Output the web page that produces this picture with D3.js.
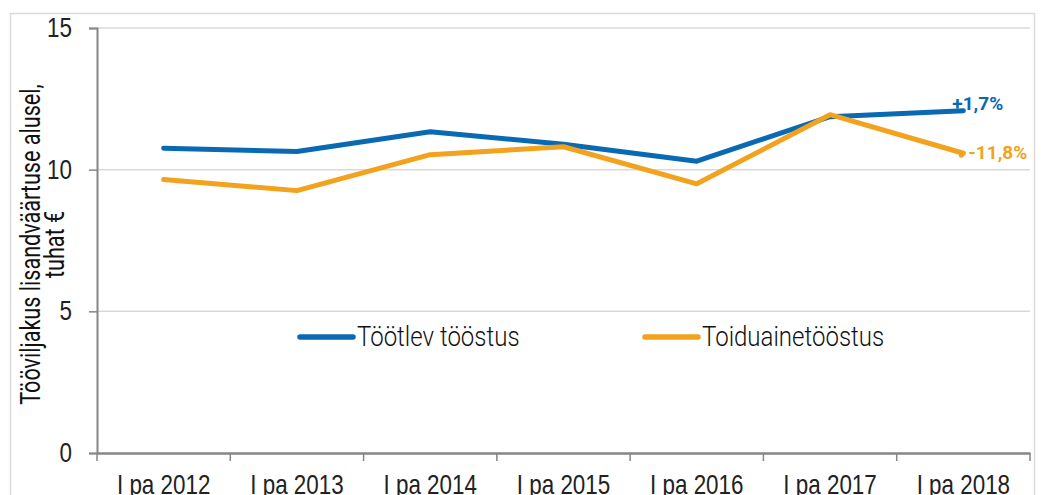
<!DOCTYPE html>
<html lang="et">
<head>
<meta charset="utf-8">
<title>Tööviljakus</title>
<script src="https://d3js.org/d3.v7.min.js"></script>
<style>
  body { margin: 0; background: #fff; }
  svg { display: block; font-family: Roboto, "Noto Sans", sans-serif; }
</style>
</head>
<body>
<svg width="1054" height="495"></svg>
<script>
const w = 1054, h = 495;

// DATA
const categories = ["I pa 2012", "I pa 2013", "I pa 2014", "I pa 2015", "I pa 2016", "I pa 2017", "I pa 2018"];
const tootlev = [10.76, 10.64, 11.34, 10.9, 10.3, 11.87, 12.08];
const toiduaine = [9.65, 9.26, 10.53, 10.81, 9.5, 11.94, 10.58];
const yTicks = [0, 5, 10, 15];
const seriesNames = ["Töötlev tööstus", "Toiduainetööstus"];
const endLabels = ["+1,7%", "-11,8%"];
const colors = ["#0a69b3", "#f2a21d"];

const m = {left: 97, right: 1030, top: 28, bottom: 453};
const k = 0.83;  // horizontal squeeze to mimic a condensed face
const kl = 0.89; // legend squeeze

const svg = d3.select("svg");

// outer frame
svg.append("rect").attr("x", 10.5).attr("y", 13.5).attr("width", 1024).attr("height", 500)
   .attr("fill", "none").attr("stroke", "#d9d9d9").attr("stroke-width", 1.5);

//SCALES
const x = d3.scaleBand().domain(categories).range([m.left, m.right]);
const y = d3.scaleLinear().domain([0, 15]).range([m.bottom, m.top]);

//GRID
svg.append("g").selectAll("line").data(yTicks.filter(d => d > 0)).join("line")
   .attr("x1", m.left).attr("x2", m.right)
   .attr("y1", d => y(d)).attr("y2", d => y(d))
   .attr("stroke", "#d9d9d9").attr("stroke-width", 1.5);

//Y AXIS
const yAxis = svg.append("g").attr("transform", `translate(${m.left},0)`)
   .call(d3.axisLeft(y).tickValues(yTicks).tickSize(8).tickPadding(17));
yAxis.select(".domain").attr("stroke", "#868686").attr("stroke-width", 2);
yAxis.selectAll(".tick line").attr("stroke", "#868686").attr("stroke-width", 1.5);
yAxis.selectAll("text").attr("font-size", 27).attr("font-weight", 300).attr("fill", "#222")
   .attr("font-family", "inherit")
   .attr("x", -25 / k).attr("transform", `scale(${k},1)`);

//X AXIS
const xAxis = svg.append("g").attr("transform", `translate(0,${m.bottom})`)
   .call(d3.axisBottom(x).tickSize(0).tickPadding(22));
xAxis.select(".domain").attr("stroke", "#868686").attr("stroke-width", 2.5);
xAxis.selectAll("text").attr("font-size", 27).attr("font-weight", 300).attr("fill", "#222")
   .attr("font-family", "inherit").attr("transform", `scale(${k},1)`);
// boundary ticks between categories
const bounds = categories.map(c => x(c)).concat([m.right]);
xAxis.append("g").selectAll("line").data(bounds).join("line")
   .attr("x1", d => d).attr("x2", d => d).attr("y1", 0).attr("y2", 8)
   .attr("stroke", "#868686").attr("stroke-width", 1.5);

//Y TITLE
const title = svg.append("text")
   .attr("transform", `translate(40,${(m.top + m.bottom) / 2 + 4}) rotate(-90) scale(0.8,1)`)
   .attr("text-anchor", "middle").attr("font-size", 27).attr("font-weight", 400).attr("fill", "#111");
title.append("tspan").attr("x", 0).attr("dy", 0).text("Tööviljakus lisandväärtuse alusel,");
title.append("tspan").attr("x", 0).attr("dy", 24).text("tuhat €");

//LINES
const line = d3.line()
   .x((d, i) => x(categories[i]) + x.bandwidth() / 2)
   .y(d => y(d));

const series = [tootlev, toiduaine];
svg.append("g").selectAll("path").data(series).join("path")
   .attr("d", d => line(d))
   .attr("fill", "none")
   .attr("stroke", (d, i) => colors[i])
   .attr("stroke-width", 5)
   .attr("stroke-linejoin", "round")
   .attr("stroke-linecap", "round");

//END LABELS
const last = categories.length - 1;
const lx = x(categories[last]) + x.bandwidth() / 2;
svg.append("circle").attr("cx", lx - 2).attr("cy", y(toiduaine[last]) + 2).attr("r", 2.5).attr("fill", colors[1]);
svg.append("g").selectAll("text").data(series).join("text")
   .attr("x", (d, i) => i === 0 ? lx - 11 : lx + 5)
   .attr("y", (d, i) => i === 0 ? y(d[last]) - 1 : y(d[last]) + 6)
   .attr("font-size", 19).attr("font-weight", 700)
   .attr("fill", (d, i) => colors[i])
   .text((d, i) => endLabels[i]);

//LEGEND
const legend = svg.append("g").selectAll("g").data(seriesNames).join("g")
   .attr("transform", (d, i) => `translate(${i === 0 ? 300 : 645},337)`);
legend.append("line").attr("x1", 0).attr("x2", 53).attr("y1", 0).attr("y2", 0)
   .attr("stroke", (d, i) => colors[i]).attr("stroke-width", 5.5).attr("stroke-linecap", "round");
legend.append("text").attr("x", 57 / kl).attr("y", 9)
   .attr("transform", `scale(${kl},1)`)
   .attr("font-size", 27).attr("font-weight", 300).attr("fill", "#111")
   .text(d => d);
</script>
</body>
</html>
